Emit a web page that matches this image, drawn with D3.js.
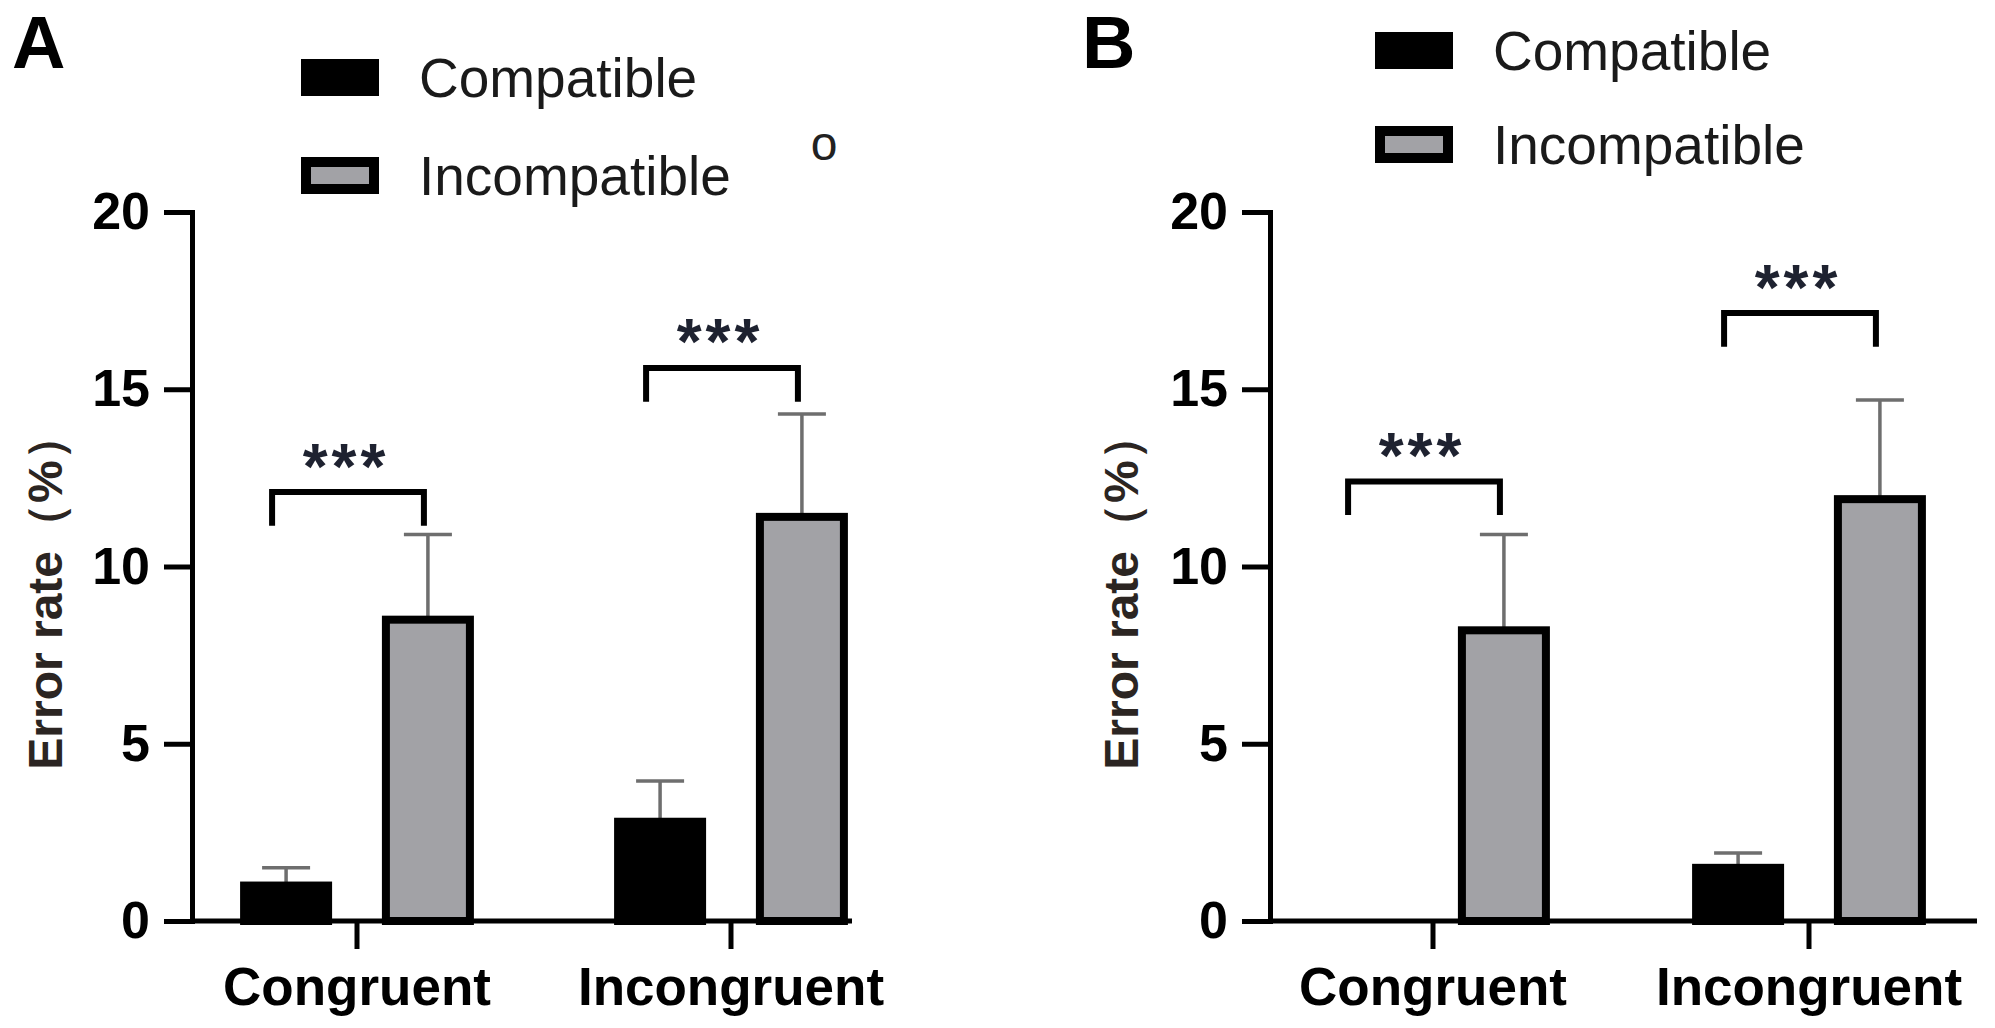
<!DOCTYPE html>
<html>
<head>
<meta charset="utf-8">
<script src="https://cdn.jsdelivr.net/npm/d3@7"></script>
<style>
body { margin: 0; background: #fff; }
text { font-family: Arial, "Liberation Sans", sans-serif; }
</style>
</head>
<body>
<script>
// data
var groups = ["Congruent", "Incongruent"];
var series = ["Compatible", "Incompatible"];
var yTicks = [0, 5, 10, 15, 20];

// panel A
var compatibleA = [1.0, 2.8];
var compatibleErrA = [0.5, 1.15];
var incompatibleA = [8.5, 11.4];
var incompatibleErrA = [2.4, 2.9];
var bracketA = [12.1, 15.6];

// panel B
var compatibleB = [0, 1.5];
var compatibleErrB = [0, 0.42];
var incompatibleB = [8.2, 11.9];
var incompatibleErrB = [2.7, 2.8];
var bracketB = [12.4, 17.15];

var sigLabels = ["***", "***"];

var width = 1995, height = 1028;
var grey = "#a2a2a6";

var svg = d3.select("body").append("svg")
    .attr("width", width)
    .attr("height", height);

var panels = [
  { letter: "A", letterX: 12, axisX: 192, band: [170, 918], axisEnd: 852,
    legendX: 301, legendY: 59, legendGap: 98, titleX: 62,
    means: [compatibleA, incompatibleA], errs: [compatibleErrA, incompatibleErrA], brackets: bracketA },
  { letter: "B", letterX: 1082, axisX: 1270, band: [1245, 1997], axisEnd: 1977,
    legendX: 1375, legendY: 32, legendGap: 94, titleX: 1138,
    means: [compatibleB, incompatibleB], errs: [compatibleErrB, incompatibleErrB], brackets: bracketB }
];

var y = d3.scaleLinear().domain([0, 20]).range([921, 212]);

function drawPanel(p) {
  var g = svg.append("g");

  var x0 = d3.scaleBand().domain(groups).range(p.band);
  var x1 = d3.scaleBand().domain(series).range([-117, 117]).paddingInner(0.35);
  function cx(gi, si) {
    return x0(groups[gi]) + x0.bandwidth() / 2 + x1(series[si]) + x1.bandwidth() / 2;
  }

  // panel letter
  g.append("text")
    .attr("x", p.letterX).attr("y", 68)
    .style("font-size", "74px").style("font-weight", "bold")
    .text(p.letter);

  // legend
  series.forEach(function(s, i) {
    var ly = p.legendY + i * p.legendGap;
    if (i == 0) {
      g.append("rect").attr("x", p.legendX).attr("y", ly)
        .attr("width", 78).attr("height", 37).attr("fill", "#000");
    } else {
      g.append("rect").attr("x", p.legendX + 5).attr("y", ly + 5)
        .attr("width", 68).attr("height", 27)
        .attr("fill", grey).attr("stroke", "#000").attr("stroke-width", 10);
    }
    g.append("text")
      .attr("x", p.legendX + 118).attr("y", ly + 38)
      .style("font-size", "55px").attr("fill", "#1a1a1a")
      .text(s);
  });

  // y axis
  var yAxis = g.append("g")
    .attr("transform", "translate(" + p.axisX + ",0)")
    .call(d3.axisLeft(y).tickValues(yTicks).tickSize(28).tickSizeOuter(0).tickPadding(14));
  yAxis.select(".domain").attr("stroke-width", 5).attr("stroke-linecap", "square");
  yAxis.selectAll(".tick line").attr("stroke-width", 5);
  yAxis.selectAll(".tick text")
    .attr("fill", "#000")
    .style("font-size", "52px").style("font-weight", "bold")
    .style("font-family", "Arial, 'Liberation Sans', sans-serif");

  // x axis
  var xAxis = g.append("g")
    .attr("transform", "translate(0," + y(0) + ")")
    .call(d3.axisBottom(x0).tickSize(28).tickSizeOuter(0).tickPadding(18));
  xAxis.select(".domain").remove();
  xAxis.selectAll(".tick line").attr("stroke-width", 5);
  xAxis.selectAll(".tick text")
    .attr("fill", "#000")
    .style("font-size", "53px").style("font-weight", "bold")
    .style("font-family", "Arial, 'Liberation Sans', sans-serif");
  g.append("line")
    .attr("x1", p.axisX).attr("x2", p.axisEnd)
    .attr("y1", y(0)).attr("y2", y(0))
    .attr("stroke", "#000").attr("stroke-width", 5);

  // y title
  g.append("text")
    .attr("transform", "translate(" + p.titleX + ",591) rotate(-90)")
    .attr("text-anchor", "middle")
    .style("font-size", "48px").style("font-weight", "bold")
    .attr("fill", "#2b2522")
    .text("Error rate（%）");

  // flatten into bar records
  var bars = [];
  groups.forEach(function(gr, gi) {
    series.forEach(function(s, si) {
      bars.push({ gi: gi, si: si, v: p.means[si][gi], e: p.errs[si][gi] });
    });
  });

  // error bars (under the bars)
  var eb = g.selectAll(".err").data(bars.filter(function(d) { return d.e > 0; }))
    .enter().append("g").attr("class", "err")
    .attr("stroke", "#6e6e6e").attr("stroke-width", 3.5);
  eb.append("line")
    .attr("x1", function(d) { return cx(d.gi, d.si); })
    .attr("x2", function(d) { return cx(d.gi, d.si); })
    .attr("y1", function(d) { return y(d.v); })
    .attr("y2", function(d) { return y(d.v + d.e); });
  eb.append("line")
    .attr("x1", function(d) { return cx(d.gi, d.si) - 24; })
    .attr("x2", function(d) { return cx(d.gi, d.si) + 24; })
    .attr("y1", function(d) { return y(d.v + d.e); })
    .attr("y2", function(d) { return y(d.v + d.e); });

  // bars
  g.selectAll(".bar").data(bars)
    .enter().append("rect").attr("class", "bar")
    .attr("x", function(d) { return cx(d.gi, d.si) - 42; })
    .attr("width", 84)
    .attr("y", function(d) { return y(d.v); })
    .attr("height", function(d) { return y(0) - y(d.v); })
    .attr("fill", function(d) { return d.si == 0 ? "#000" : grey; })
    .attr("stroke", "#000").attr("stroke-width", 8);

  // significance brackets
  groups.forEach(function(gr, gi) {
    var b = p.brackets[gi];
    var xl = cx(gi, 0) - 14, xr = cx(gi, 1) - 4;
    g.append("path")
      .attr("d", "M" + xl + "," + y(b - 0.95) + "V" + y(b) + "H" + xr + "V" + y(b - 0.95))
      .attr("fill", "none").attr("stroke", "#000").attr("stroke-width", 6);
    g.append("text")
      .attr("x", (xl + xr) / 2 - 2).attr("y", y(b) - 40)
      .attr("dy", "0.57em")
      .attr("text-anchor", "middle")
      .style("font-size", "64px").style("font-weight", "bold")
      .style("letter-spacing", "4px")
      .attr("fill", "#1e2230")
      .text(sigLabels[gi]);
  });
}

panels.forEach(drawPanel);

// stray mark in panel A
svg.append("text")
  .attr("x", 824).attr("y", 160)
  .attr("text-anchor", "middle")
  .style("font-size", "48px").attr("fill", "#222")
  .text("o");
</script>
</body>
</html>
